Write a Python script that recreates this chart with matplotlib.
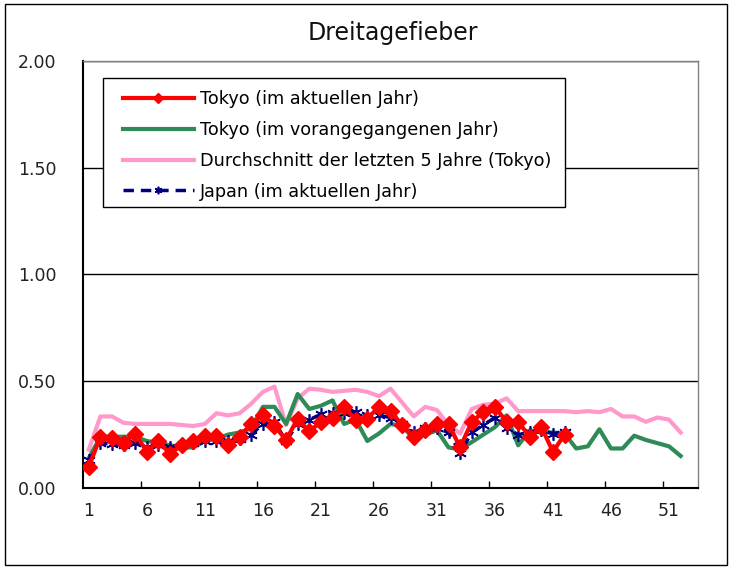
import numpy as np
import matplotlib.pyplot as plt
from matplotlib.patches import Rectangle

plt.rcParams['font.family'] = ['DejaVu Sans']

# Wochen 1..53
weeks_total = 53

tokyo_now = [0.10, 0.24, 0.235, 0.21, 0.255, 0.17, 0.22, 0.16, 0.20, 0.22,
             0.245, 0.245, 0.20, 0.24, 0.30, 0.34, 0.29, 0.225, 0.325, 0.265,
             0.31, 0.33, 0.38, 0.32, 0.325, 0.38, 0.36, 0.295, 0.24, 0.27,
             0.30, 0.30, 0.19, 0.31, 0.355, 0.38, 0.31, 0.31, 0.24, 0.285,
             0.17, 0.25]
tokyo_prev = [0.14, 0.24, 0.24, 0.24, 0.24, 0.22, 0.21, 0.20, 0.19, 0.19,
              0.22, 0.23, 0.25, 0.26, 0.28, 0.38, 0.38, 0.30, 0.44, 0.37,
              0.385, 0.41, 0.30, 0.32, 0.22, 0.255, 0.30, 0.29, 0.23, 0.25,
              0.27, 0.19, 0.18, 0.215, 0.25, 0.285, 0.34, 0.20, 0.27, 0.26,
              0.26, 0.255, 0.185, 0.195, 0.275, 0.185, 0.185, 0.245, 0.225, 0.21,
              0.195, 0.15]
tokyo_avg5 = [0.18, 0.335, 0.335, 0.305, 0.30, 0.30, 0.30, 0.30, 0.295, 0.29,
              0.30, 0.35, 0.34, 0.35, 0.395, 0.45, 0.475, 0.295, 0.42, 0.465,
              0.46, 0.45, 0.455, 0.46, 0.45, 0.43, 0.465, 0.40, 0.335, 0.38,
              0.365, 0.295, 0.255, 0.37, 0.39, 0.395, 0.42, 0.36, 0.36, 0.36,
              0.36, 0.36, 0.355, 0.36, 0.355, 0.37, 0.335, 0.335, 0.31, 0.33,
              0.32, 0.26]
japan_now = [0.13, 0.21, 0.205, 0.20, 0.21, 0.19, 0.20, 0.19, 0.20, 0.21,
             0.22, 0.22, 0.22, 0.23, 0.25, 0.30, 0.31, 0.22, 0.30, 0.32,
             0.345, 0.35, 0.35, 0.355, 0.34, 0.34, 0.33, 0.30, 0.26, 0.28,
             0.28, 0.26, 0.165, 0.26, 0.295, 0.33, 0.28, 0.25, 0.26, 0.27,
             0.255, 0.26]

x_labels = [str(w) for w in range(1, weeks_total + 1, 5)]

fig = plt.figure(figsize=(7.32, 5.69), dpi=100)
ax = fig.add_axes([0.1134, 0.1424, 0.8402, 0.7504])

# Rahmen um das ganze Bild
fig.patches.append(Rectangle((0.007, 0.007), 0.986, 0.986, transform=fig.transFigure,
                             fill=False, edgecolor='black', linewidth=1.0))

for y in [0.5, 1.0, 1.5, 2.0]:
    ax.axhline(y, color='black', linewidth=1.0, zorder=1)

x_now = np.arange(1, len(tokyo_now) + 1)
x_prev = np.arange(1, len(tokyo_prev) + 1)
x_avg = np.arange(1, len(tokyo_avg5) + 1)
x_jp = np.arange(1, len(japan_now) + 1)

l_avg, = ax.plot(x_avg, tokyo_avg5, color='#FF99CC', linewidth=3, zorder=2,
                 label='Durchschnitt der letzten 5 Jahre (Tokyo)')
l_prev, = ax.plot(x_prev, tokyo_prev, color='#2E8B57', linewidth=3, zorder=3,
                  label='Tokyo (im vorangegangenen Jahr)')
l_jp, = ax.plot(x_jp, japan_now, color='#000080', linewidth=2.5, linestyle=(0, (3, 2)),
                marker=(6, 2, 0), markersize=9, markeredgewidth=1.2, zorder=4,
                label='Japan (im aktuellen Jahr)')
l_now, = ax.plot(x_now, tokyo_now, color='#FF0000', linewidth=3, marker='D',
                 markersize=8, zorder=5, label='Tokyo (im aktuellen Jahr)')

ax.set_xlim(0.5, weeks_total + 0.5)
ax.set_ylim(0, 2.0)
ax.set_yticks([0, 0.5, 1.0, 1.5, 2.0])
ax.set_yticklabels(['0.00', '0.50', '1.00', '1.50', '2.00'], fontsize=12.5, color='#222222')
ax.tick_params(axis='y', length=0, pad=19)

# Teilstriche zwischen den Kategorien, Beschriftung mittig
ax.set_xticks(np.arange(5.5, weeks_total, 5))
ax.set_xticklabels([])
ax.tick_params(axis='x', which='major', direction='in', length=5, width=1)
ax.set_xticks(np.arange(1, weeks_total + 1, 5), minor=True)
ax.set_xticklabels(x_labels, minor=True, fontsize=12.5, color='#222222')
ax.tick_params(axis='x', which='minor', length=0, pad=10)

for side in ['left', 'bottom']:
    ax.spines[side].set_linewidth(1.5)
for side in ['top', 'right']:
    ax.spines[side].set_color('#808080')
    ax.spines[side].set_linewidth(1.0)

fig.text(0.537, 0.942, 'Dreitagefieber', ha='center', va='center', fontsize=17,
         color='#111111')

# Legende ohne eigenen Rahmen, Rahmen separat (breiter Innenrand links/rechts)
leg = fig.legend(handles=[l_now, l_prev, l_avg, l_jp], loc='upper left',
                 bbox_to_anchor=(0.168, 0.841), fontsize=12.7, handlelength=4.0,
                 handletextpad=0.34, frameon=False, borderpad=0, borderaxespad=0,
                 labelspacing=0.72, markerscale=0.6)
fig.patches.append(Rectangle((0.1407, 0.6362), 0.6312, 0.2267, transform=fig.transFigure,
                             fill=True, facecolor='white', edgecolor='black',
                             linewidth=1.0, zorder=6))
leg.set_zorder(7)

fig.savefig('out.png', dpi=100)
